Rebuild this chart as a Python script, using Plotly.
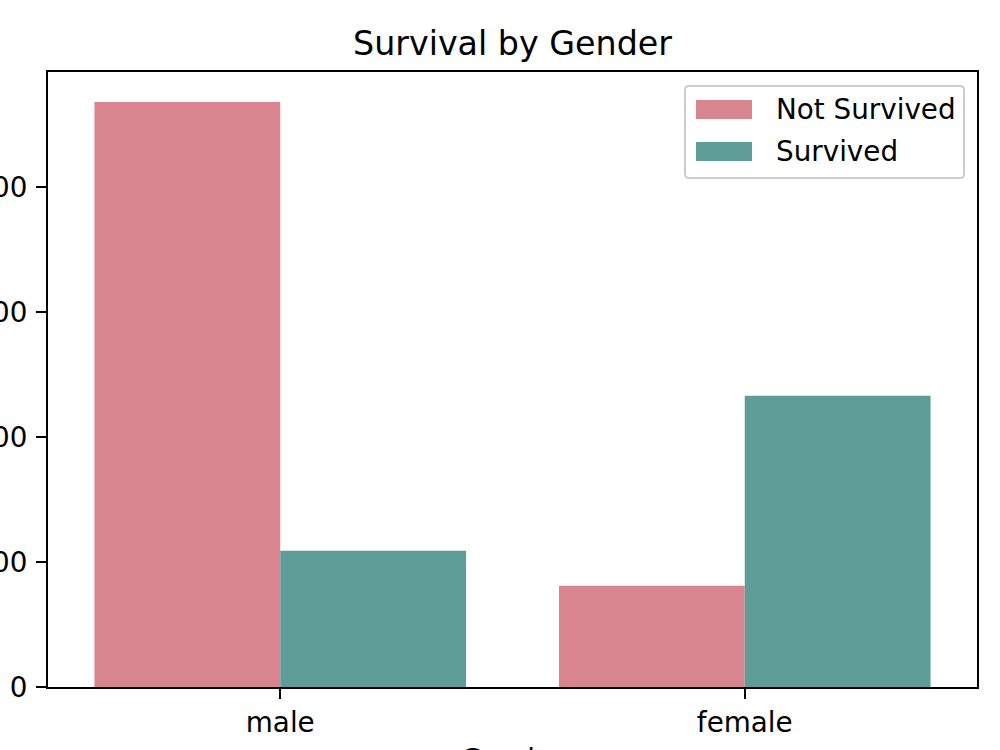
import plotly.graph_objects as go

categories = ["male", "female"]
series_names = ["Not Survived", "Survived"]
not_survived = [468, 81]
survived = [109, 233]
colors = ["#d9858f", "#5e9d97"]
y_ticks = [0, 100, 200, 300, 400]
x_title = "Gender"

W, H = 1000, 750
L, R, T, B = 48, 977, 72, 687
FONT = "DejaVu Sans"
FS = 27.8
TFS = 33.3

fig = go.Figure()
for name, vals, col in zip(series_names, [not_survived, survived], colors):
    fig.add_trace(go.Bar(x=categories, y=vals, name=name, marker=dict(color=col, line=dict(width=0)),
                         showlegend=False))

def px_x(p):
    return (p - L) / (R - L)

def px_y(p):
    return (B - p) / (B - T)

# manual legend (matplotlib style)
bx0, bx1, by0, by1, r = 685, 964, 86, 178, 4
path = (f"M {px_x(bx0 + r)},{px_y(by0)} L {px_x(bx1 - r)},{px_y(by0)} "
        f"Q {px_x(bx1)},{px_y(by0)} {px_x(bx1)},{px_y(by0 + r)} "
        f"L {px_x(bx1)},{px_y(by1 - r)} Q {px_x(bx1)},{px_y(by1)} {px_x(bx1 - r)},{px_y(by1)} "
        f"L {px_x(bx0 + r)},{px_y(by1)} Q {px_x(bx0)},{px_y(by1)} {px_x(bx0)},{px_y(by1 - r)} "
        f"L {px_x(bx0)},{px_y(by0 + r)} Q {px_x(bx0)},{px_y(by0)} {px_x(bx0 + r)},{px_y(by0)} Z")
shapes = [dict(type="path", xref="paper", yref="paper", path=path,
               fillcolor="rgba(255,255,255,0.8)", line=dict(color="#cccccc", width=2))]
annotations = []
for i, (name, col) in enumerate(zip(series_names, colors)):
    cy = 109.5 + i * 42
    shapes.append(dict(type="rect", xref="paper", yref="paper",
                       x0=px_x(696), x1=px_x(752), y0=px_y(cy - 9.5), y1=px_y(cy + 9.5),
                       fillcolor=col, line=dict(width=0)))
    annotations.append(dict(xref="paper", yref="paper", x=px_x(774), y=px_y(cy),
                            xanchor="left", yanchor="middle", text=name, showarrow=False,
                            font=dict(family=FONT, size=FS, color="black")))

# x-axis title (mostly below the visible page, as in the reference)
annotations.append(dict(xref="paper", yref="paper", x=0.5, y=px_y(741),
                        xanchor="center", yanchor="top", text=x_title, showarrow=False,
                        font=dict(family=FONT, size=FS, color="black")))

fig.update_layout(
    width=W, height=H,
    margin=dict(l=L, r=W - R, t=T, b=H - B, autoexpand=False),
    paper_bgcolor="white", plot_bgcolor="white",
    barmode="group", bargap=0.2, bargroupgap=0,
    font=dict(family=FONT, size=FS, color="black"),
    title=dict(text="Survival by Gender", x=(L + R) / 2 / W, xanchor="center",
               y=1 - 43 / H, yanchor="middle", yref="container",
               font=dict(family=FONT, size=TFS, color="black")),
    shapes=shapes, annotations=annotations,
)
fig.update_xaxes(range=[-0.5, 1.5], showline=True, linecolor="black", linewidth=2.2, mirror=True,
                 ticks="outside", ticklen=10, tickwidth=2.2, tickcolor="black",
                 showgrid=False, zeroline=False,
                 tickfont=dict(size=FS))
fig.update_yaxes(range=[0, 492], showline=True, linecolor="black", linewidth=2.2, mirror=True,
                 ticks="outside", ticklen=10, tickwidth=2.2, tickcolor="black",
                 tickvals=y_ticks, showgrid=False, zeroline=False,
                 ticklabelstandoff=3,
                 tickfont=dict(size=FS))

fig.write_html("out.html")
